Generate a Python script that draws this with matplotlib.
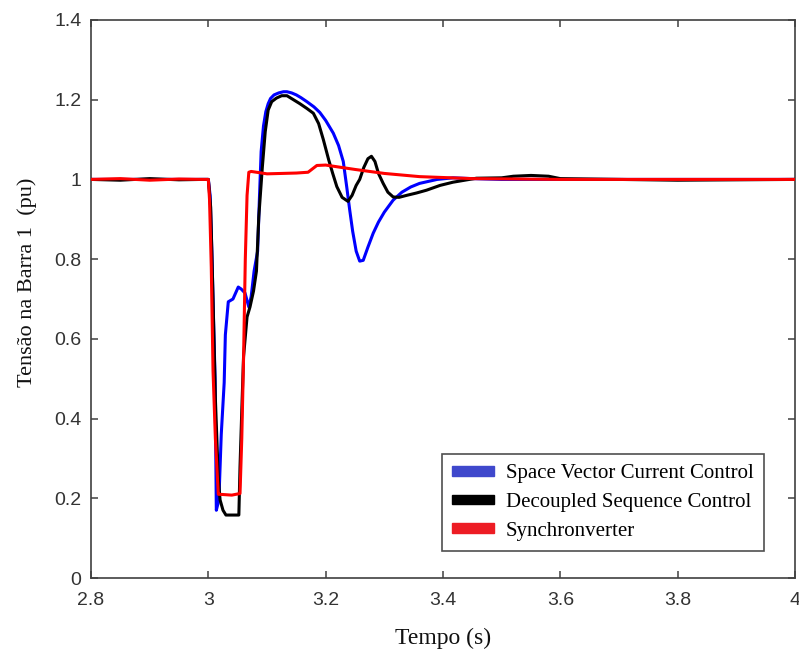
import matplotlib
matplotlib.use("Agg")
import matplotlib.pyplot as plt
from matplotlib.patches import Patch

# ---- data ----
t_svc = [2.80, 2.90, 2.99, 3.000, 3.003, 3.006, 3.009, 3.0115, 3.0136, 3.018, 3.022, 3.027,
         3.029, 3.034, 3.042, 3.051, 3.056, 3.0625, 3.069, 3.073, 3.078, 3.084, 3.087,
         3.090, 3.094, 3.098, 3.102, 3.106, 3.112, 3.120, 3.128, 3.134, 3.142, 3.150,
         3.158, 3.168, 3.180, 3.190, 3.200, 3.213, 3.222, 3.230, 3.236, 3.241, 3.246,
         3.252, 3.258, 3.264, 3.272, 3.281, 3.290, 3.300, 3.315, 3.330, 3.345, 3.360,
         3.390, 3.417, 3.450, 3.500, 3.600, 3.700, 3.800, 4.000]
v_svc = [1.000, 1.000, 1.000, 1.000, 0.96, 0.82, 0.64, 0.50, 0.17, 0.196, 0.36, 0.49,
         0.61, 0.693, 0.700, 0.730, 0.725, 0.715, 0.680, 0.706, 0.770, 0.820, 0.950,
         1.070, 1.134, 1.170, 1.190, 1.203, 1.212, 1.217, 1.220, 1.220, 1.217, 1.212,
         1.205, 1.195, 1.182, 1.168, 1.148, 1.116, 1.085, 1.045, 0.980, 0.923, 0.870,
         0.820, 0.795, 0.797, 0.830, 0.865, 0.893, 0.918, 0.948, 0.968, 0.981, 0.990,
         1.000, 1.004, 1.002, 1.000, 1.000, 1.000, 1.000, 1.000]

t_dsc = [2.80, 2.85, 2.90, 2.95, 2.99, 3.000, 3.004, 3.008, 3.012, 3.017, 3.020, 3.025,
         3.030, 3.052, 3.054, 3.057, 3.060, 3.066, 3.071, 3.077, 3.082, 3.086, 3.092,
         3.097, 3.102, 3.108, 3.116, 3.125, 3.134, 3.145, 3.156, 3.168, 3.179, 3.188,
         3.196, 3.205, 3.212, 3.219, 3.228, 3.238, 3.245, 3.252, 3.258, 3.265, 3.272,
         3.278, 3.284, 3.290, 3.298, 3.306, 3.315, 3.325, 3.338, 3.355, 3.372, 3.395,
         3.417, 3.457, 3.500, 3.520, 3.550, 3.580, 3.600, 3.700, 3.800, 4.000]
v_dsc = [1.000, 0.998, 1.002, 0.999, 1.000, 1.000, 0.93, 0.70, 0.45, 0.25, 0.196, 0.17,
         0.158, 0.158, 0.280, 0.420, 0.555, 0.655, 0.680, 0.720, 0.770, 0.906, 1.030,
         1.120, 1.174, 1.195, 1.204, 1.210, 1.210, 1.200, 1.190, 1.178, 1.166, 1.140,
         1.100, 1.050, 1.015, 0.982, 0.955, 0.945, 0.960, 0.985, 1.000, 1.030, 1.052,
         1.058, 1.045, 1.015, 0.990, 0.968, 0.956, 0.955, 0.960, 0.966, 0.973, 0.985,
         0.993, 1.003, 1.004, 1.008, 1.010, 1.008, 1.002, 1.000, 0.998, 1.000]

t_syn = [2.80, 2.85, 2.90, 2.95, 2.99, 3.000, 3.002, 3.005, 3.008, 3.012, 3.017, 3.020,
         3.040, 3.054, 3.057, 3.060, 3.063, 3.066, 3.069, 3.073, 3.100, 3.150, 3.170,
         3.185, 3.200, 3.250, 3.300, 3.360, 3.450, 3.600, 3.800, 4.000]
v_syn = [1.000, 1.002, 0.998, 1.001, 1.000, 1.000, 0.95, 0.78, 0.52, 0.35, 0.21, 0.210,
         0.208, 0.212, 0.35, 0.55, 0.80, 0.96, 1.018, 1.020, 1.014, 1.016, 1.018,
         1.035, 1.036, 1.025, 1.015, 1.007, 1.002, 1.000, 1.000, 1.000]

labels = ["Space Vector Current Control", "Decoupled Sequence Control", "Synchronverter"]
line_colors = ["#0000ff", "#000000", "#ff0000"]
legend_colors = ["#3f48cc", "#000000", "#ed1c24"]
x_ticks = [2.8, 3.0, 3.2, 3.4, 3.6, 3.8, 4.0]
x_ticklabels = ["2.8", "3", "3.2", "3.4", "3.6", "3.8", "4"]
y_ticks = [0, 0.2, 0.4, 0.6, 0.8, 1.0, 1.2, 1.4]
y_ticklabels = ["0", "0.2", "0.4", "0.6", "0.8", "1", "1.2", "1.4"]

# ---- figure ----
fig = plt.figure(figsize=(7.99, 6.57), dpi=100)
ax = fig.add_axes([0.1139, 0.1202, 0.8811, 0.8494])

ax.plot(t_svc, v_svc, color=line_colors[0], lw=2.2, zorder=2)
ax.plot(t_dsc, v_dsc, color=line_colors[1], lw=2.2, zorder=3)
ax.plot(t_syn, v_syn, color=line_colors[2], lw=2.2, zorder=4)

ax.set_xlim(2.8, 4.0)
ax.set_ylim(0, 1.4)
ax.set_xticks(x_ticks)
ax.set_xticklabels(x_ticklabels)
ax.set_yticks(y_ticks)
ax.set_yticklabels(y_ticklabels)

for lab in ax.get_xticklabels() + ax.get_yticklabels():
    lab.set_fontfamily("Liberation Sans")
    lab.set_fontsize(14)
    lab.set_color("#333333")

ax.tick_params(direction="in", length=5, width=1.1, color="#404040",
               top=True, right=True)
ax.tick_params(axis="x", pad=10)
ax.tick_params(axis="y", pad=7)
for s in ax.spines.values():
    s.set_color("#404040")
    s.set_linewidth(1.2)

ax.set_xlabel("Tempo (s)", fontfamily="Liberation Serif", fontsize=17, color="#111111")
ax.set_ylabel("Tensão na Barra 1  (pu)", fontfamily="Liberation Serif", fontsize=16,
              color="#111111")
ax.xaxis.set_label_coords(0.5, -0.09)
ax.yaxis.set_label_coords(-0.077, 0.53)

handles = [Patch(facecolor=c, edgecolor=c) for c in legend_colors]
leg = ax.legend(handles, labels, loc="lower left",
                bbox_to_anchor=(0.4986, 0.048),
                frameon=True, fancybox=False,
                prop=dict(family="Liberation Serif", size=15),
                handlelength=2.0, handleheight=0.35, handletextpad=0.55,
                labelspacing=0.47, borderpad=0.5, borderaxespad=0)
leg.get_frame().set_edgecolor("#222222")
leg.get_frame().set_linewidth(1.2)
leg.set_zorder(10)

fig.savefig("out.png", dpi=100)
